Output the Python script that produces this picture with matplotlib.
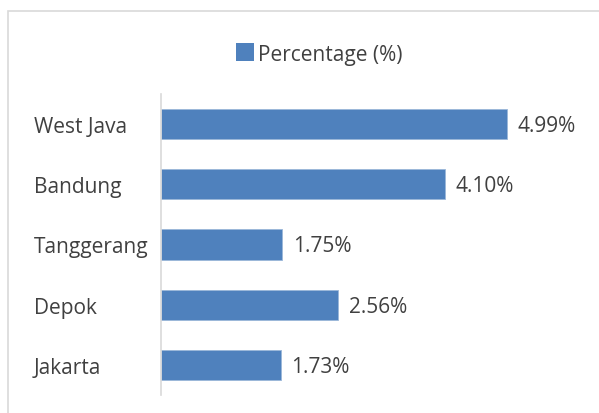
import matplotlib.pyplot as plt
from matplotlib.patches import Rectangle

# data, top to bottom as in the chart
cities = ["West Java", "Bandung", "Tanggerang", "Depok", "Jakarta"]
percentage = [4.99, 4.10, 1.75, 2.56, 1.73]
value_labels = ["4.99%", "4.10%", "1.75%", "2.56%", "1.73%"]

W, H = 599, 414
bar_color = "#4F81BD"
text_color = "#404040"
fsize = 15

plt.rcParams["font.family"] = ["Open Sans", "DejaVu Sans"]

fig = plt.figure(figsize=(W / 100, H / 100), dpi=100)

# light frame round the chart area (runs off right and bottom)
fig.patches.append(Rectangle((8 / W, -0.05), 1.0, 1 - 12 / H + 0.05,
                             transform=fig.transFigure, fill=False,
                             edgecolor="#d9d9d9", linewidth=1.2))

# axes: left at x=161, top y=95, bottom y=396
ax = fig.add_axes([161 / W, 1 - 396 / H, (577 - 161) / W, (396 - 95) / H])

ypos = list(range(len(cities)))
ax.barh(ypos, percentage, height=0.5, color=bar_color,
        edgecolor="#9bb7d9", linewidth=0.6)
ax.set_ylim(len(cities) - 0.5, -0.5)
ax.set_xlim(0, 6)

for y, v, lab in zip(ypos, percentage, value_labels):
    ax.annotate(lab, (v, y), xytext=(7.5, -1), textcoords="offset points",
                va="center", ha="left", fontsize=fsize, color=text_color)

ax.set_yticks(ypos)
ax.set_yticklabels(cities, ha="left", fontsize=fsize, color=text_color)
ax.tick_params(axis="y", length=0, pad=(161 - 34) * 0.72)
ax.set_xticks([])

for side in ["top", "right", "bottom"]:
    ax.spines[side].set_visible(False)
ax.spines["left"].set_color("#d9d9d9")
ax.spines["left"].set_linewidth(1.2)

# legend
fig.patches.append(Rectangle((236 / W, 1 - 62 / H), 18 / W, 18 / H,
                             transform=fig.transFigure, facecolor=bar_color,
                             edgecolor="none"))
fig.text(258 / W, 1 - 55 / H, "Percentage (%)", ha="left", va="center",
         fontsize=fsize, color=text_color)

fig.savefig("out.png", dpi=100)
